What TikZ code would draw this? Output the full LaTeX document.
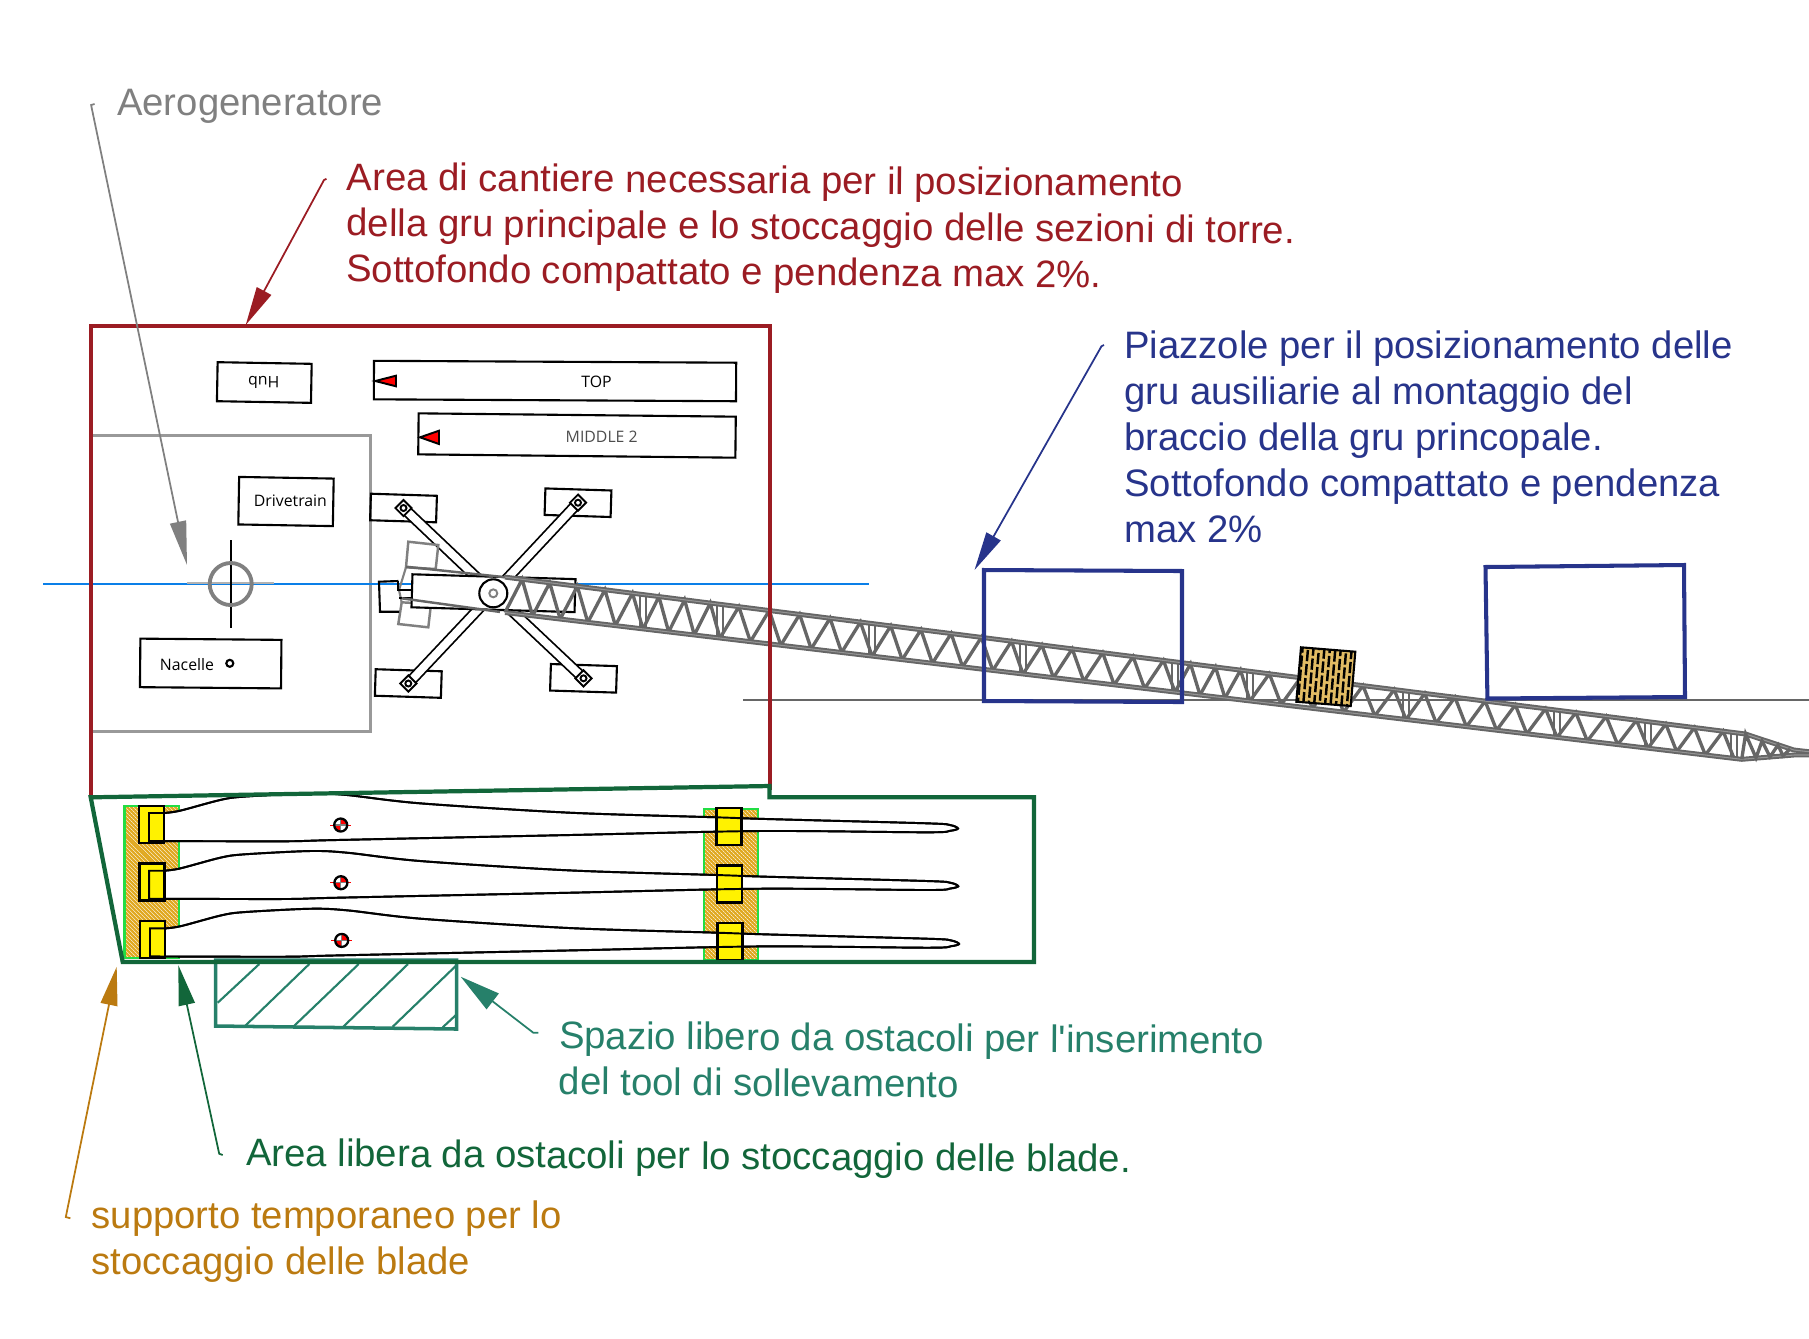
\documentclass[tikz,border=0pt]{standalone}
\usepackage{fontspec}
\setmainfont{Liberation Sans}
\newfontfamily\tagfont{Open Sans}
\newfontfamily\plainquote{Liberation Sans}
\usetikzlibrary{arrows.meta, calc, patterns.meta, shapes.geometric}

\definecolor{siteRed}{HTML}{9B1C23}
\definecolor{storeGreen}{HTML}{12663A}
\definecolor{toolTeal}{HTML}{26806A}
\definecolor{padBlue}{HTML}{27348B}
\definecolor{supportOrange}{HTML}{BB7A10}
\definecolor{supportFill}{HTML}{E0A820}
\definecolor{supportEdge}{HTML}{22DD44}
\definecolor{boomGray}{HTML}{666666}
\definecolor{blockTan}{HTML}{E2BC64}
\definecolor{axisBlue}{HTML}{0A7FE8}

\begin{document}
\begin{tikzpicture}[
        x=0.01cm, y=-0.01cm,
        declare function={topy(\x)=665+(\x-1200)*0.1265; boty(\x)=695+(\x-1200)*0.1187;},
        note/.style={font=\fontsize{10.88}{13.05}\selectfont, align=left, anchor=west, inner sep=0pt},
        tag/.style={font=\tagfont\fontsize{4.5}{5}\selectfont, inner sep=0pt},
        box/.style={draw, line width=0.6pt, minimum height=0.39cm, inner sep=0pt},
        pad/.style={box, minimum width=0.66cm, minimum height=0.265cm, rotate=-1.8},
        joint/.style={draw, fill=white, diamond, aspect=1, line width=0.55pt, minimum size=0.17cm, inner sep=0pt},
        pin/.style={draw, fill=white, circle, line width=0.55pt, minimum size=0.06cm, inner sep=0pt},
        arm/.style={line width=0.5pt, double, double distance=2.2pt},
        truss/.style={boomGray, line width=0.95pt},
        chord/.style={boomGray, line width=0.55pt, double=boomGray!70, double distance=0.3pt},
        leader/.style={line width=0.5pt},
        head/.style={-{Triangle[length=#1, width=4.6pt]}},
        supportedge/.style={draw=supportEdge, line width=0.7pt},
        clamp/.style={draw, line width=0.65pt, fill=yellow, minimum width=0.25cm, minimum height=0.37cm, inner sep=0pt},
        blade/.style={line width=0.55pt}
    ]

    \useasboundingbox (0,0) rectangle (1809,1338);
    \def\bladeshape{(149,841) -- (149,813) -- plot[smooth, tension=0.5] coordinates {(164,813) (180,810.7) (220,800) (243,796.7) (310,793.3) (347,795) (420,803.3) (570,812.7) (716.7,817.3) (766.7,819) (926.7,823.3) (950,825) (958,828.5) (950,830.8) (926.7,832.3) (760,831) (570,835) (336.7,840) (283,841.3) (149,841)}}

    % ground and axis
    \draw[boomGray, line width=0.5pt] (743,700) -- (1809,700);
    \draw[black!40, line width=0.8pt] (91,435.7) -- (370.7,435.7) -- (370.7,731.7) -- (91,731.7);
    \draw[axisBlue, line width=0.5pt] (43,584) -- (869,584);

    % stored pieces
    \node[box, minimum width=0.94cm, rotate=-1] (hub) at (264.3,382.5) {};
    \node[tag, rotate=180] (hublabel) at (263.8,382.3) {Hub};
    \node[box, minimum width=3.62cm, minimum height=0.385cm, rotate=-0.3] (top) at (555,381) {};
    \node[tag] (toplabel) at (596.6,381.7) {TOP};
    \node[box, minimum width=3.17cm, minimum height=0.41cm, rotate=-0.6] (middle) at (577,435.5) {};
    \node[tag, text=black!70] (middlelabel) at (601.7,436.7) {MIDDLE 2};
    \node[box, minimum width=0.945cm, minimum height=0.475cm, rotate=-1] (drive) at (286,501.5) {};
    \node[tag] (drivelabel) at (290.4,500.7) {Drivetrain};
    \node[box, minimum width=1.41cm, minimum height=0.485cm, rotate=-0.5] (nacelle) at (210.7,663.5) {};
    \node[tag] (nacellelabel) at (187,665) {Nacelle};
    \node[draw, circle, line width=0.6pt, minimum size=0.07cm, inner sep=0pt] (nacellepin) at (229.8,663.3) {};

    \draw[fill=red, line width=0.55pt] (375.3,381) -- (396,375.7) -- (396,386.3) -- cycle;
    \draw[fill=red, line width=0.55pt] (420,437.3) -- (439,430.7) -- (439,444) -- cycle;

    % tower centre
    \draw[gray!60, line width=0.3pt] (187,583) -- (274,583);
    \draw[line width=0.55pt] (230.7,540) -- (230.7,627.7);
    \node[draw=gray, circle, line width=1.1pt, minimum size=0.42cm, inner sep=0pt] (tower) at (230.7,584) {};

    % crane outriggers
    \coordinate (turretc) at (493.3,593.3);
    \foreach \name/\px/\py in {NW/403.5/508, NE/578/502.7, SW/408.3/683.5, SE/583.5/678.3} {
        \node[pad] (pad\name) at (\px,\py) {};
        \draw[arm] (\px,\py) -- (turretc);
        \node[joint] (joint\name) at (\px,\py) {};
        \node[pin] (pin\name) at (\px,\py) {};
    }

    % crane tracks and body
    \draw[gray, line width=0.7pt] (408.3,541.7) -- (438.3,545) -- (435.7,569) -- (406,567.3) -- cycle;
    \draw[gray, line width=0.7pt] (401.7,602.3) -- (431,604) -- (428.3,627.3) -- (398.3,624) -- cycle;
    \draw[line width=0.6pt] (398.3,581) -- (379,581.7) -- (380,611.7) -- (399,611.7);
    \draw[gray, line width=0.6pt] (406,567.3) -- (399,590) -- (401.7,602.3);
    \draw[line width=0.55pt] (398.3,581) -- (398.3,590) -- (412,590);
    \draw[line width=0.55pt] (399,598) -- (412,598);
    \node[box, fill=white, minimum width=1.63cm, minimum height=0.33cm, rotate=-1.7] (cabin) at (493.5,593.2) {};

    % boom
    \draw[boomGray, line width=0.7pt] (406,566.7) -- (510,{topy(510)});
    \draw[boomGray, line width=0.7pt] (401.7,598.3) -- (500,{boty(500)});
    \foreach \a/\b/\n in {505/643/5, 643/720/3, 720/872/5, 872/1023/5, 1023/1175/5, 1175/1250/3, 1250/1406/5, 1406/1557/5, 1557/1648/3, 1648/1734/3} {
        \pgfmathsetmacro{\p}{(\b-\a)/\n}
        \foreach \i in {1,...,\n} {
            \pgfmathsetmacro{\xa}{\a+(\i-1)*\p}
            \pgfmathsetmacro{\xb}{\xa+0.62*\p}
            \pgfmathsetmacro{\xc}{\xa+\p}
            \draw[truss] (\xa,{boty(\xa)}) -- (\xb,{topy(\xb)}) -- (\xc,{boty(\xc)});
        }
        \draw[boomGray, line width=0.5pt] (\b-3,{topy(\b-3)}) -- (\b-3,{boty(\b-3)});
        \draw[boomGray, line width=0.6pt] (\b+3,{topy(\b+3)}) -- (\b+3,{boty(\b+3)});
    }
    \draw[chord] (505,{topy(505)}) -- (1745.6,734) -- (1794,750) -- (1809,751.7);
    \draw[chord] (505,{boty(505)}) -- (1741.7,759.3) -- (1794,755) -- (1809,755);
    \draw[truss] (1741.7,759.3) -- (1745.6,734) -- (1756,757.8) -- (1762,741) -- (1770,756.8) -- (1778,745) -- (1783,755.8) -- (1790,749);

    % turret on top of the boom foot
    \node[draw, circle, line width=0.6pt, minimum size=0.28cm, inner sep=0pt] (turret) at (turretc) {};
    \node[draw=gray, circle, line width=0.55pt, minimum size=0.08cm, inner sep=0pt] (turretpin) at (turretc) {};

    % auxiliary crane pads and block
    \draw[padBlue, line width=1.15pt] (984,570) -- (1182,571) -- (1182,702) -- (984,701) -- cycle;
    \draw[padBlue, line width=1.15pt] (1485.5,567) -- (1684,565) -- (1685,697) -- (1487.4,698.5) -- cycle;

    \coordinate (blockA) at (1301,647.3);
    \coordinate (blockB) at (1355.3,651.7);
    \coordinate (blockC) at (1350.7,706);
    \coordinate (blockD) at (1296.3,701.7);
    \begin{scope}
        \clip (blockA) -- (blockB) -- (blockC) -- (blockD) -- cycle;
        \fill[blockTan] (blockA) -- (blockB) -- (blockC) -- (blockD) -- cycle;
        \foreach \t [count=\k] in {0.03,0.13,...,1.0} {
            \draw[line width=0.7pt, dash pattern=on 3.2pt off 0.8pt, dash phase={\k*1.7pt}] ($(blockA)!\t!(blockB)$) -- ($(blockD)!\t!(blockC)$);
        }
    \end{scope}
    \draw[line width=0.6pt] (blockA) -- (blockB) -- (blockC) -- (blockD) -- cycle;

    % blade store
    \foreach \sx/\sy/\sw/\sh in {124.5/806/54.5/152, 704/809/54/151} {
        \fill[supportFill] (\sx,\sy) rectangle ++(\sw,\sh);
        \path[pattern={Lines[angle=-45, distance=0.9pt, line width=0.25pt]}, pattern color=white!75!supportFill] (\sx,\sy) rectangle ++(\sw,\sh);
        \draw[supportedge] (\sx,\sy) rectangle ++(\sw,\sh);
    }
    \foreach \dy/\dx [count=\k] in {0/0, 57.7/0.2, 115.4/1} {
        \begin{scope}[shift={(\dx,\dy)}]
            \draw[blade, fill=white] \bladeshape -- cycle;
        \end{scope}
        \node[clamp] (rootclamp\k) at ({151.8+\dx},{824.3+\dy}) {};
        \node[clamp] (tipclamp\k) at ({729.1+\dx},{826.3+\dy}) {};
        \begin{scope}[shift={(\dx,\dy)}]
            \draw[blade] \bladeshape -- cycle;
        \end{scope}
        \fill[white] ({340.7+\dx},{825+\dy}) circle (6.5);
        \fill[red] ({340.7+\dx},{825+\dy}) -- ++(6.5,0) arc[start angle=0, end angle=-90, radius=6.5] -- cycle;
        \fill[red] ({340.7+\dx},{825+\dy}) -- ++(-6.5,0) arc[start angle=180, end angle=90, radius=6.5] -- cycle;
        \draw[red, line width=0.15pt] ({330+\dx},{825+\dy}) -- ({351+\dx},{825+\dy});
        \draw[gray, line width=0.3pt] ({334.2+\dx},{825+\dy}) -- ({347.2+\dx},{825+\dy}) ({340.7+\dx},{818.5+\dy}) -- ({340.7+\dx},{831.5+\dy});
        \node[draw, circle, line width=0.65pt, minimum size=0.13cm, inner sep=0pt] (mark\k) at ({340.7+\dx},{825+\dy}) {};
    }

    % site outlines
    \draw[siteRed, line width=1.2pt] (90.7,797.3) -- (90.7,326) -- (770,326) -- (770,790);
    \draw[toolTeal, line width=1pt] (215.7,960) -- (456.7,960) -- (456.7,1029) -- (215.7,1026) -- cycle;
    \foreach \xa/\ya/\xb/\yb in {217.7/1002.7/259.3/964, 245/1026/309.3/964, 294/1026/358.7/964, 343.3/1026.7/408/964, 392.7/1026.7/456.7/965, 442.7/1027.3/456.7/1014.3} {
        \draw[toolTeal, line width=0.6pt] (\xa,\ya) -- (\xb,\yb);
    }
    \draw[storeGreen, line width=1.2pt, line join=miter] (90.7,797.3) -- (769.4,786) -- (769.4,797.3) -- (1034,797.3) -- (1034,962) -- (122.7,962) -- cycle;

    % notes
    \node[note, text=gray] (aeronote) at (116.5,106) {Aerogeneratore};
    \node[note, text=siteRed, rotate=-0.45] (sitenote) at (346,226) {Area di cantiere necessaria per il posizionamento\\della gru principale e lo stoccaggio delle sezioni di torre.\\Sottofondo compattato e pendenza max 2\%.};
    \node[note, text=padBlue] (padnote) at (1123.7,437) {Piazzole per il posizionamento delle\\gru ausiliarie al montaggio del\\braccio della gru princopale.\\Sottofondo compattato e pendenza\\max 2\%};
    \node[note, text=toolTeal, rotate=-0.4] (toolnote) at (558.4,1058) {Spazio libero da ostacoli per l{\plainquote'}inserimento\\del tool di sollevamento};
    \node[note, text=storeGreen, rotate=-0.4] (storenote) at (245.7,1156) {Area libera da ostacoli per lo stoccaggio delle blade.};
    \node[note, text=supportOrange] (supportnote) at (91,1241.5) {supporto temporaneo per lo\\stoccaggio delle blade};

    % leaders
    \coordinate (aerohook) at (94.6,104);
    \coordinate (aerotip) at (187,565);
    \coordinate (sitehook) at (326.5,178.8);
    \coordinate (sitetip) at (245.7,325);
    \coordinate (padhook) at (1104,345);
    \coordinate (padtip) at (974.5,570);
    \coordinate (toolhook) at (538.3,1032.7);
    \coordinate (tooltip) at (460.7,976.7);
    \coordinate (storehook) at (222.7,1155);
    \coordinate (storetip) at (178.3,965);
    \coordinate (supporthook) at (70.4,1218.3);
    \coordinate (supporttip) at (116.7,966.7);

    \draw[leader, gray, head=12.5pt] (aerohook) -- ++(-3.5,1) -- (aerotip);
    \draw[leader, siteRed, head=11pt] (sitehook) -- ++(-2.5,1.2) -- (sitetip);
    \draw[leader, padBlue, head=11pt] (padhook) -- ++(-2.5,1.2) -- (padtip);
    \draw[leader, toolTeal, -{Triangle[length=11.5pt, width=5.6pt]}] (toolhook) -- ++(-5,0) -- (tooltip);
    \draw[leader, storeGreen, head=11.5pt] (storehook) -- ++(-3.5,-1.3) -- (storetip);
    \draw[leader, supportOrange, -{Triangle[length=11pt, width=4.8pt]}] (supporthook) -- ++(-4.6,-1.3) -- (supporttip);

\end{tikzpicture}
\end{document}
